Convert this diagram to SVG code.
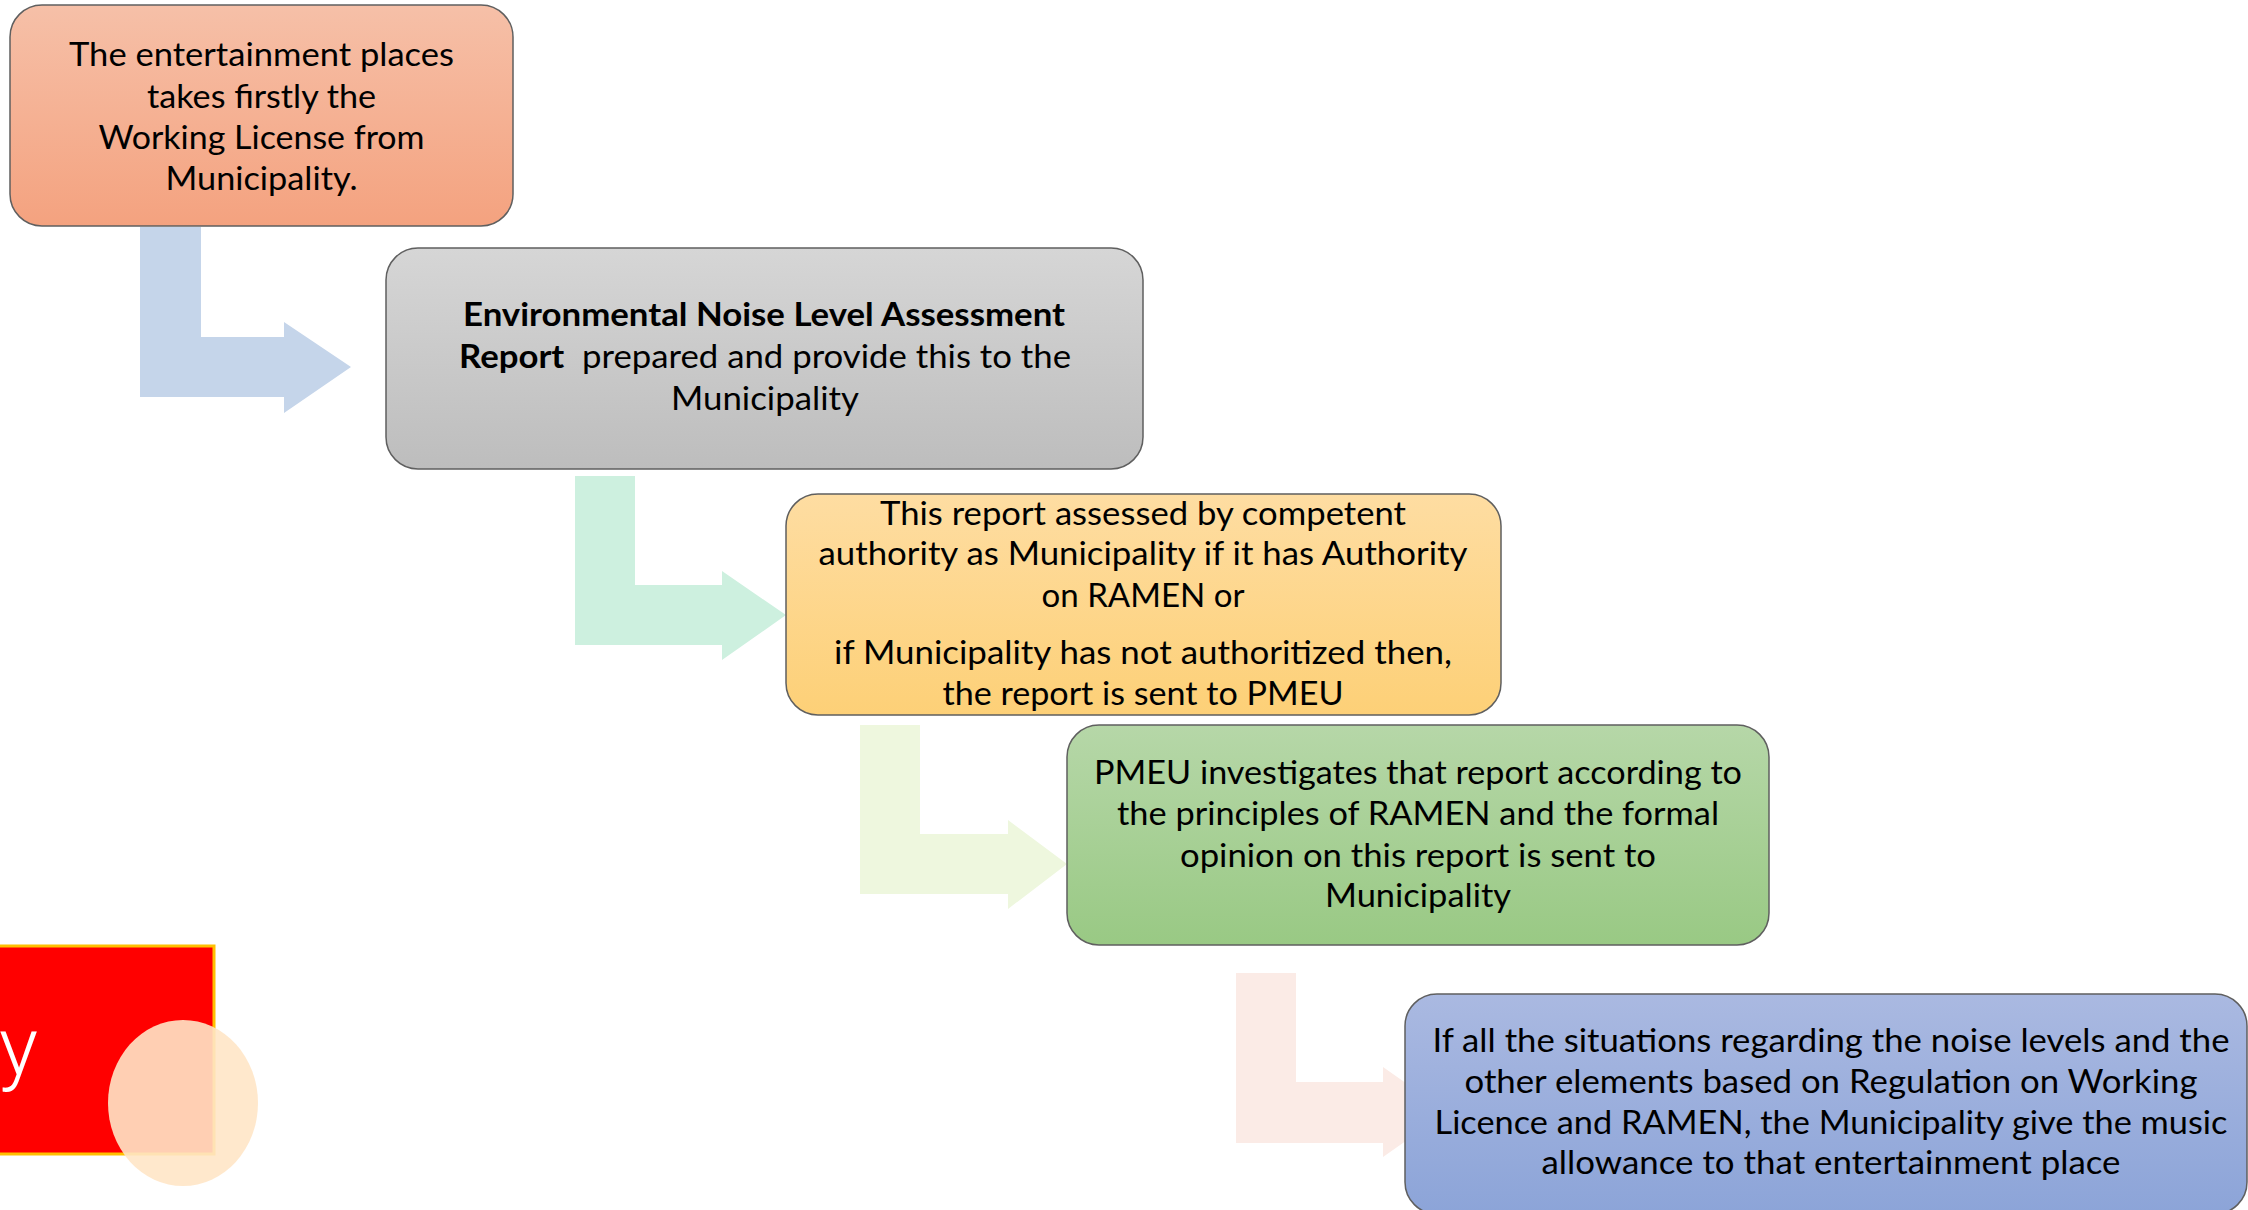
<svg xmlns="http://www.w3.org/2000/svg" width="2248" height="1210" viewBox="0 0 2248 1210">
  <defs>
    <linearGradient id="g1" x1="0" y1="0" x2="0" y2="1">
      <stop offset="0" stop-color="#F6C0A8"/>
      <stop offset="1" stop-color="#F4A27F"/>
    </linearGradient>
    <linearGradient id="g2" x1="0" y1="0" x2="0" y2="1">
      <stop offset="0" stop-color="#D6D6D6"/>
      <stop offset="1" stop-color="#BDBDBD"/>
    </linearGradient>
    <linearGradient id="g3" x1="0" y1="0" x2="0" y2="1">
      <stop offset="0" stop-color="#FEDDA2"/>
      <stop offset="1" stop-color="#FDD077"/>
    </linearGradient>
    <linearGradient id="g4" x1="0" y1="0" x2="0" y2="1">
      <stop offset="0" stop-color="#B6D7A8"/>
      <stop offset="1" stop-color="#99C984"/>
    </linearGradient>
    <linearGradient id="g5" x1="0" y1="0" x2="0" y2="1">
      <stop offset="0" stop-color="#AAB9E1"/>
      <stop offset="1" stop-color="#8CA4D8"/>
    </linearGradient>
  </defs>
  <style>
    .box { stroke: #5f5f5f; stroke-width: 1.5; }
    .t { font-family: Lato, "Liberation Sans", sans-serif; font-size: 33px; fill: #000; white-space: pre; }
    .b { font-weight: bold; }
  </style>
  <rect width="2248" height="1210" fill="#FFFFFF"/>

  <g id="connectors">
    <polygon fill="#C5D5EA" points="140,227 201,227 201,337 284,337 284,322 351,367 284,413 284,397 140,397"/>
    <polygon fill="#CDF0DF" points="575,476 635,476 635,585 722,585 722,571 786,615 722,660 722,645 575,645"/>
    <polygon fill="#EEF7DE" points="860,725 920,725 920,834 1008,834 1008,820 1067,864 1008,909 1008,894 860,894"/>
    <polygon fill="#FBEBE6" points="1236,973 1296,973 1296,1082 1383,1082 1383,1067 1447,1112 1383,1157 1383,1143 1236,1143"/>
  </g>

  <g id="node1">
    <rect class="box" x="10" y="5" width="503" height="221" rx="32" ry="32" fill="url(#g1)"/>
    <text class="t" x="69" y="66" textLength="385" lengthAdjust="spacingAndGlyphs">The entertainment places</text>
    <text class="t" x="147" y="108" textLength="229" lengthAdjust="spacingAndGlyphs">takes firstly the</text>
    <text class="t" x="98.5" y="149" textLength="326" lengthAdjust="spacingAndGlyphs">Working License from</text>
    <text class="t" x="165.5" y="190" textLength="192" lengthAdjust="spacingAndGlyphs">Municipality.</text>
  </g>

  <g id="node2">
    <rect class="box" x="386" y="248" width="757" height="221" rx="32" ry="32" fill="url(#g2)"/>
    <text class="t b" x="463" y="326" textLength="602" lengthAdjust="spacingAndGlyphs">Environmental Noise Level Assessment</text>
    <text class="t" x="459" y="368" textLength="612" lengthAdjust="spacingAndGlyphs"><tspan class="b">Report</tspan>  prepared and provide this to the</text>
    <text class="t" x="671" y="410" textLength="188" lengthAdjust="spacingAndGlyphs">Municipality</text>
  </g>

  <g id="node3">
    <rect class="box" x="786" y="494" width="715" height="221" rx="32" ry="32" fill="url(#g3)"/>
    <text class="t" x="880" y="525" textLength="526" lengthAdjust="spacingAndGlyphs">This report assessed by competent</text>
    <text class="t" x="818.5" y="565" textLength="649" lengthAdjust="spacingAndGlyphs">authority as Municipality if it has Authority</text>
    <text class="t" x="1041.5" y="607" textLength="203" lengthAdjust="spacingAndGlyphs">on RAMEN or</text>
    <text class="t" x="834" y="664" textLength="618" lengthAdjust="spacingAndGlyphs">if Municipality has not authoritized then,</text>
    <text class="t" x="942.5" y="705" textLength="401" lengthAdjust="spacingAndGlyphs">the report is sent to PMEU</text>
  </g>

  <g id="node4">
    <rect class="box" x="1067" y="725" width="702" height="220" rx="32" ry="32" fill="url(#g4)"/>
    <text class="t" x="1094" y="784" textLength="648" lengthAdjust="spacingAndGlyphs">PMEU investigates that report according to</text>
    <text class="t" x="1117" y="825" textLength="602" lengthAdjust="spacingAndGlyphs">the principles of RAMEN and the formal</text>
    <text class="t" x="1180" y="867" textLength="476" lengthAdjust="spacingAndGlyphs">opinion on this report is sent to</text>
    <text class="t" x="1325" y="907" textLength="186" lengthAdjust="spacingAndGlyphs">Municipality</text>
  </g>

  <g id="node5">
    <rect class="box" x="1405" y="994" width="842" height="220" rx="32" ry="32" fill="url(#g5)"/>
    <text class="t" x="1432.5" y="1052" textLength="797" lengthAdjust="spacingAndGlyphs">If all the situations regarding the noise levels and the</text>
    <text class="t" x="1464.5" y="1093" textLength="733" lengthAdjust="spacingAndGlyphs">other elements based on Regulation on Working</text>
    <text class="t" x="1434.5" y="1134" textLength="793" lengthAdjust="spacingAndGlyphs">Licence and RAMEN, the Municipality give the music</text>
    <text class="t" x="1541.5" y="1174" textLength="579" lengthAdjust="spacingAndGlyphs">allowance to that entertainment place</text>
  </g>

  <g id="decor">
    <rect x="-5" y="946" width="219" height="208" fill="#FF0000" stroke="#FFC000" stroke-width="3"/>
    <text x="-1" y="1075" font-family="Roboto, 'Liberation Sans', sans-serif" font-weight="300" font-size="82" fill="#FFFFFF">y</text>
    <ellipse cx="183" cy="1103" rx="75" ry="83" fill="#FFE6C7" fill-opacity="0.9"/>
  </g>
</svg>
